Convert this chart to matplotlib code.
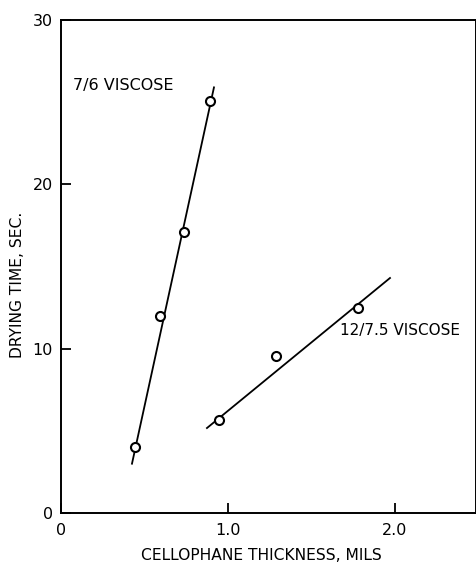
import matplotlib
matplotlib.use("Agg")
import matplotlib.pyplot as plt

# Data
visc76_x = [0.443, 0.593, 0.737, 0.892]
visc76_y = [4.0, 12.0, 17.1, 25.1]
visc76_fit_x = [0.425, 0.916]
visc76_fit_y = [3.0, 25.9]

visc125_x = [0.946, 1.287, 1.778]
visc125_y = [5.66, 9.55, 12.5]
visc125_fit_x = [0.874, 1.97]
visc125_fit_y = [5.17, 14.3]

xticks = [0, 1.0, 2.0]
xtick_labels = ["0", "1.0", "2.0"]
yticks = [0, 10, 20, 30]
ytick_labels = ["0", "10", "20", "30"]

plt.rcParams['font.family'] = ['DejaVu Sans']

fig = plt.figure(figsize=(4.77, 5.63), dpi=100)
ax = fig.add_axes([61/477, 50/563, (476-61)/477, (513-20)/563])

lw = 1.3
ax.plot(visc76_fit_x, visc76_fit_y, color='black', lw=lw)
ax.plot(visc125_fit_x, visc125_fit_y, color='black', lw=lw)
ax.plot(visc76_x, visc76_y, 'o', ms=6.5, mfc='white', mec='black', mew=1.5)
ax.plot(visc125_x, visc125_y, 'o', ms=6.5, mfc='white', mec='black', mew=1.5)

ax.set_xlim(0, 2.485)
ax.set_ylim(0, 30)

ax.set_xticks(xticks)
ax.set_xticklabels(xtick_labels)
ax.set_yticks(yticks)
ax.set_yticklabels(ytick_labels)
ax.tick_params(direction='in', length=7, width=1.3, labelsize=11.5)
ax.tick_params(axis='x', pad=7)
ax.tick_params(axis='y', pad=6)

for s in ax.spines.values():
    s.set_linewidth(1.4)

ax.text(0.073, 26.0, "7/6 VISCOSE", fontsize=11.5, va='center', ha='left')
ax.text(1.671, 11.1, "12/7.5 VISCOSE", fontsize=11, va='center', ha='left')

ax.set_xlabel("CELLOPHANE THICKNESS, MILS", fontsize=11.2)
ax.set_ylabel("DRYING TIME, SEC.", fontsize=11.2)
ax.xaxis.set_label_coords((261-61)/415, -(555-513)/493 + 0.0, transform=ax.transAxes)
ax.xaxis.label.set_va('center')
ax.yaxis.set_label_coords(-(61-18)/415, (513-285)/493, transform=ax.transAxes)
ax.yaxis.label.set_va('center')

fig.savefig("out.png", dpi=100)
